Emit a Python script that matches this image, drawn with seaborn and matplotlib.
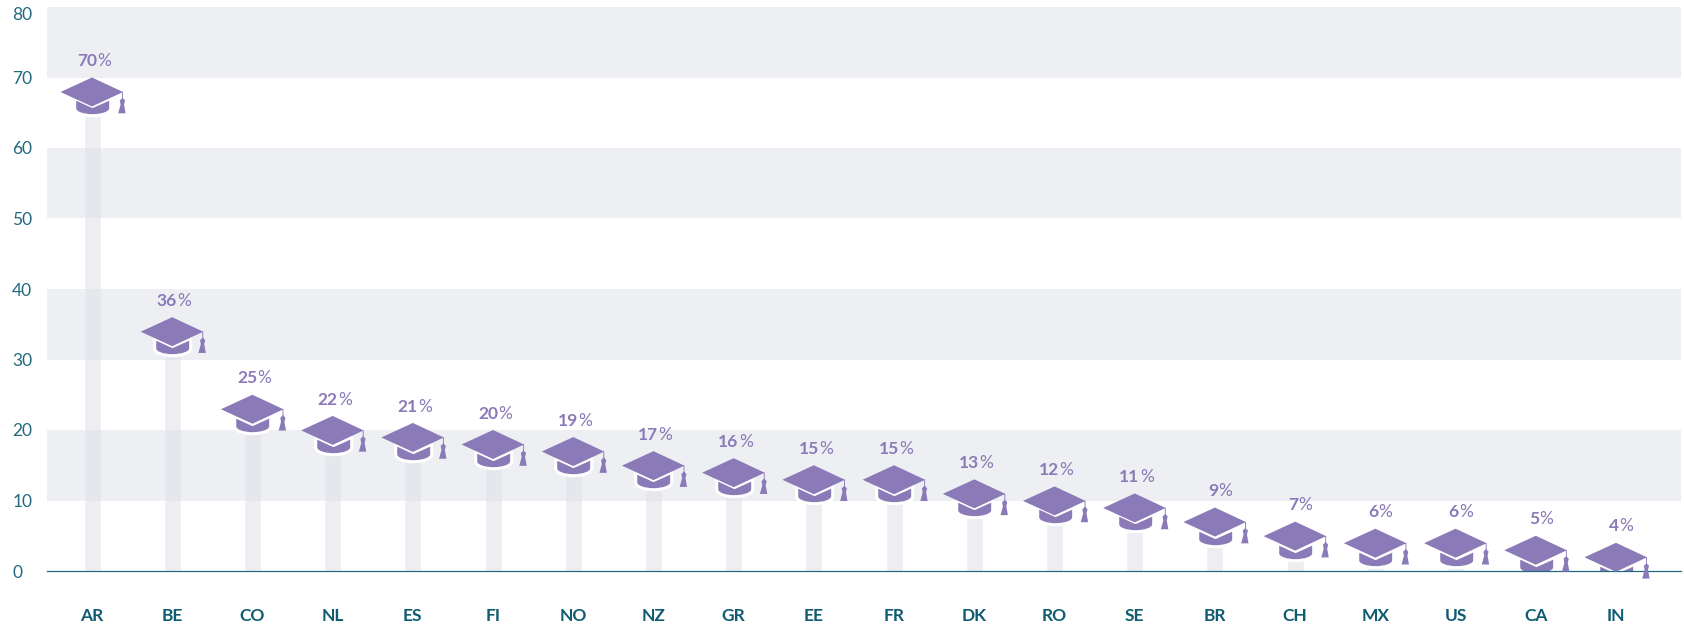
import numpy as np
import pandas as pd
import matplotlib
matplotlib.use('Agg')
import matplotlib.pyplot as plt
import seaborn as sns
from matplotlib.path import Path

countries = ['AR', 'BE', 'CO', 'NL', 'ES', 'FI', 'NO', 'NZ', 'GR', 'EE',
             'FR', 'DK', 'RO', 'SE', 'BR', 'CH', 'MX', 'US', 'CA', 'IN']
shares = [70, 36, 25, 22, 21, 20, 19, 17, 16, 15,
          15, 13, 12, 11, 9, 7, 6, 6, 5, 4]
y_ticks = [0, 10, 20, 30, 40, 50, 60, 70, 80]
bands = [(10, 20), (30, 40), (50, 60), (70, 80)]

PURPLE = '#8a7ab8'
TEAL = '#23697f'
DARK_TEAL = '#0f5c72'

df = pd.DataFrame({'country': countries, 'share': shares})
df['pos'] = df.index
# the stems stop behind the cap
df['stem'] = (df['share'] - 4).clip(lower=0)

sns.set_theme(style='white')
plt.rcParams['font.family'] = ['Lato', 'DejaVu Sans']

fig = plt.figure(figsize=(16.84, 6.25), dpi=100)
ax = fig.add_axes([47 / 1684, 54 / 625, (1681 - 47) / 1684, 564 / 625])


def cap_marker(verts, codes):
    # marker shapes are sketched in pixels around the top of the cap
    path = Path(np.array(verts, dtype=float), codes)
    size = (1.44 * np.abs(path.vertices).max()) ** 2
    return path, size


L, C, M = Path.LINETO, Path.CURVE4, Path.MOVETO
body_verts = [(-17.8, -20.8), (0, -29), (18.2, -20.8), (18.2, -31),
              (18.2, -35.5), (9, -38.2), (0, -38.2),
              (-9, -38.2), (-17.8, -35.5), (-17.8, -31), (-17.8, -20.8)]
body_codes = [M, L, L, L, C, C, C, C, C, C, L]

hat_verts = [(-31.5, -14.5), (0, 0), (31, -14.5), (0, -29), (-31.5, -14.5),
             (30.1, -14.5), (31, -14.5), (31, -23), (30.1, -23), (30.1, -14.5),
             (30.5, -20.5), (33, -23), (32, -27), (33.6, -35.8),
             (26.2, -35.8), (28.6, -27), (27.8, -23), (30.5, -20.5)]
hat_codes = [M, L, L, L, L, M, L, L, L, L, M, L, L, L, L, L, L, L]

body_marker, body_size = cap_marker(body_verts, body_codes)
hat_marker, hat_size = cap_marker(hat_verts, hat_codes)

sns.barplot(data=df, x='country', y='stem', order=countries, color='#edeef2',
            saturation=1, width=0.212, errorbar=None, ax=ax, zorder=1)

for low, high in bands:
    ax.axhspan(low, high, color='#dfe1e8', alpha=0.5, lw=0, zorder=1.5)

# the body is cut by the baseline, the top and the tassel are not
sns.scatterplot(data=df, x='pos', y='share', marker=body_marker, s=body_size,
                color=PURPLE, edgecolor='white', linewidth=2.2, legend=False,
                ax=ax, zorder=2)
sns.scatterplot(data=df, x='pos', y='share', marker=hat_marker, s=hat_size,
                color=PURPLE, edgecolor='none', linewidth=0, legend=False,
                ax=ax, zorder=4, clip_on=False)

for pos, share in zip(df['pos'], df['share']):
    shift = 3.5 if share >= 10 else 2.2
    ax.annotate(str(share), (pos, share), xytext=(shift, 11.8), textcoords='offset points',
                ha='right', va='center', color=PURPLE, fontsize=12.5, fontweight='bold')
    ax.annotate('%', (pos, share), xytext=(shift + 0.2, 11.8), textcoords='offset points',
                ha='left', va='center', color=PURPLE, fontsize=12.5)

ax.set_xlim(-(92 - 47) / 80.2, 19 + (1681 - 1616) / 80.2)
ax.set_ylim(0, 80)
ax.set_xlabel('')
ax.set_ylabel('')
ax.set_yticks(y_ticks)

sns.despine(ax=ax, left=True, top=True, right=True)
ax.spines['bottom'].set_color(TEAL)
ax.spines['bottom'].set_linewidth(0.9)
ax.spines['bottom'].set_zorder(3)

ax.tick_params(axis='x', length=0, pad=26.5, labelsize=12.5, labelcolor=DARK_TEAL)
ax.tick_params(axis='y', length=0, pad=25, labelsize=12.5, labelcolor=TEAL)
for label in ax.get_xticklabels():
    label.set_fontweight('bold')
for label in ax.get_yticklabels():
    label.set_ha('left')
    label.set_va('center_baseline')
ax.get_yticklabels()[-1].set_va('top')

fig.savefig('out.png', dpi=100)
